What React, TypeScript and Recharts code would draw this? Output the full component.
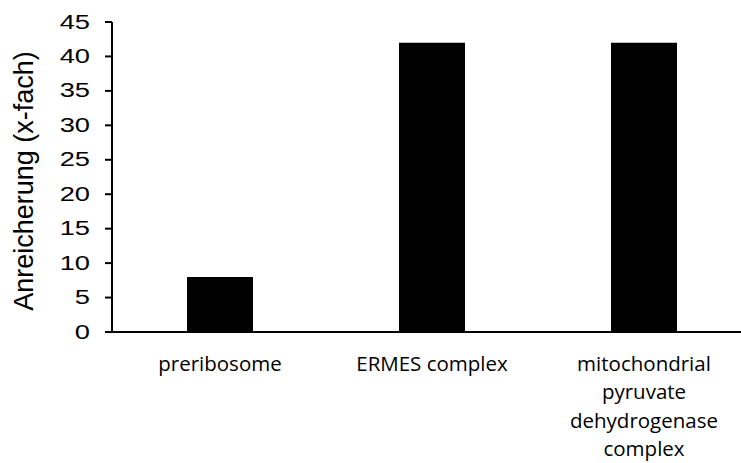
import React from "react";
import { BarChart, Bar, XAxis, YAxis, Text } from "recharts";

const categories = [
  "preribosome",
  "ERMES complex",
  "mitochondrial pyruvate dehydrogenase complex",
];
const enrichment = [8, 42, 42];
const yTicks = [0, 5, 10, 15, 20, 25, 30, 35, 40, 45];

const data = categories.map((name, i) => ({ name, value: enrichment[i] }));

const labelStyle = {
  fontFamily: "'Open Sans', sans-serif",
  fontSize: 20.5,
};

const CategoryTick = ({ x, y, payload }: any) => (
  <Text
    x={x}
    y={y + 24}
    width={165}
    textAnchor="middle"
    verticalAnchor="start"
    lineHeight={28.5}
    style={labelStyle}
    fill="#000"
  >
    {payload.value}
  </Text>
);

// tick digits in the source are stretched sideways
const ValueTick = ({ x, y, payload }: any) => (
  <text
    transform={`translate(${x},${y}) scale(1.4,1)`}
    textAnchor="end"
    dominantBaseline="central"
    fontFamily="'Liberation Sans', Arial, sans-serif"
    fontSize={19.5}
    fill="#000"
  >
    {payload.value}
  </text>
);

const YLabel = () => (
  <text
    transform="translate(33,181) rotate(-90)"
    textAnchor="middle"
    fontFamily="'Liberation Sans', Arial, sans-serif"
    fontSize={27}
    fill="#000"
  >
    Anreicherung (x-fach)
  </text>
);

const App = () => {
  return (
    <div
      style={{
        position: "absolute",
        left: 0,
        top: 0,
        width: 741,
        height: 463,
        overflow: "hidden",
        background: "#fff",
      }}
    >
      <BarChart
        width={750}
        height={463}
        data={data}
        margin={{ top: 22, right: 0, bottom: 0, left: 0 }}
      >
        <XAxis
          dataKey="name"
          height={131}
          interval={0}
          tickLine={false}
          tickSize={0}
          tickMargin={0}
          padding={{ left: 2, right: 0 }}
          axisLine={{ stroke: "#000", strokeWidth: 2 }}
          tick={<CategoryTick />}
        />
        <YAxis
          width={112}
          domain={[0, 45]}
          ticks={yTicks}
          interval={0}
          tickSize={7}
          tickMargin={15}
          axisLine={{ stroke: "#000", strokeWidth: 2 }}
          tickLine={{ stroke: "#000", strokeWidth: 2 }}
          tick={<ValueTick />}
          label={<YLabel />}
        />
        <Bar dataKey="value" fill="#000" barSize={66} isAnimationActive={false} />
      </BarChart>
    </div>
  );
};

export default App;
